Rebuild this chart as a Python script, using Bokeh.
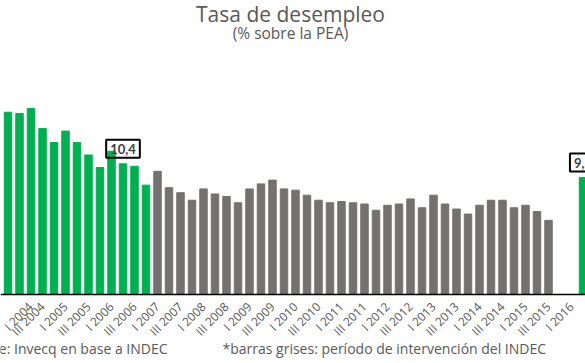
import math
from bokeh.plotting import figure
from bokeh.models import ColumnDataSource, Range1d, FixedTicker, Label
from bokeh.embed import file_html
from bokeh.resources import INLINE

# ---- data -------------------------------------------------------------
quarters = ["IV 2003"] + [f"{q} {y}" for y in range(2004, 2016) for q in ("I", "II", "III", "IV")] + ["I 2016", "II 2016"]
unemployment = [
    14.5,
    14.4, 14.8, 13.2, 12.1,
    13.0, 12.1, 11.1, 10.1,
    11.4, 10.4, 10.2, 8.7,
    9.8, 8.5, 8.1, 7.5,
    8.4, 8.0, 7.8, 7.3,
    8.4, 8.8, 9.1, 8.4,
    8.3, 7.9, 7.5, 7.3,
    7.4, 7.3, 7.2, 6.7,
    7.1, 7.2, 7.6, 6.9,
    7.9, 7.2, 6.8, 6.4,
    7.1, 7.5, 7.5, 6.9,
    7.1, 6.6, 5.9, None,
    None, 9.3,
]
intervention_start = "I 2007"
intervention_end = "IV 2015"
labelled_quarters = ["II 2006", "II 2016"]
tick_quarters = [q for q in quarters if q.split()[0] in ("I", "III")]

GREEN = "#00B050"
GRAY = "#767171"
TEXT = "#595959"

i0 = quarters.index(intervention_start)
i1 = quarters.index(intervention_end)
xs, tops, colors = [], [], []
for i, (q, v) in enumerate(zip(quarters, unemployment)):
    if v is None:
        continue
    xs.append(i)
    tops.append(v)
    colors.append(GRAY if i0 <= i <= i1 else GREEN)
src = ColumnDataSource(dict(x=xs, top=tops, color=colors))

# ---- figure -----------------------------------------------------------
W, H = 585, 363
p = figure(width=W, height=H, output_backend="svg", toolbar_location=None,
           x_range=Range1d(-0.652, 50.217), y_range=Range1d(-5.49, 23.39),
           min_border_left=0, min_border_right=0, min_border_top=0,
           min_border_bottom=0)
p.outline_line_color = None
p.xgrid.visible = False
p.ygrid.visible = False
p.yaxis.visible = False
p.background_fill_color = "white"
p.border_fill_color = "white"

p.vbar(x="x", top="top", width=0.65, color="color", source=src)

ax = p.xaxis[0]
ax.fixed_location = 0
ax.ticker = FixedTicker(ticks=[quarters.index(q) for q in tick_quarters])
ax.major_label_overrides = {quarters.index(q): q for q in tick_quarters}
ax.major_label_orientation = math.pi / 4
ax.major_tick_line_color = None
ax.minor_tick_line_color = None
ax.axis_line_color = "black"
ax.axis_line_width = 1.5
ax.major_label_text_font = "Open Sans"
ax.major_label_text_font_size = "12px"
ax.major_label_text_color = TEXT
ax.major_label_standoff = 4

# value call-outs
for q in labelled_quarters:
    i = quarters.index(q)
    v = unemployment[i]
    p.add_layout(Label(x=i, y=v, y_offset=15, text=f"{v:.1f}".replace(".", ","),
                       text_align="center", text_baseline="middle",
                       text_font="Lato", text_font_style="bold", text_font_size="13px",
                       text_color="#404040", border_line_color="black",
                       border_line_width=2, background_fill_color=None, padding=4))

# titles and notes (screen units measured from the bottom of the canvas)
p.add_layout(Label(x=290, y=350, x_units="screen", y_units="screen", text="Tasa de desempleo",
                   text_align="center", text_baseline="alphabetic", text_font="Open Sans",
                   text_font_size="21px", text_color=TEXT))
p.add_layout(Label(x=290, y=331, x_units="screen", y_units="screen", text="(% sobre la PEA)",
                   text_align="center", text_baseline="alphabetic", text_font="Open Sans",
                   text_font_size="15.5px", text_color=TEXT))
p.add_layout(Label(x=167, y=15, x_units="screen", y_units="screen", text="Fuente: Invecq en base a INDEC",
                   text_align="right", text_baseline="alphabetic", text_font="Open Sans",
                   text_font_size="14px", text_color=TEXT))
p.add_layout(Label(x=222, y=15, x_units="screen", y_units="screen",
                   text="*barras grises: período de intervención del INDEC",
                   text_align="left", text_baseline="alphabetic", text_font="Open Sans",
                   text_font_size="14px", text_color=TEXT))

open("out.html", "w").write(file_html(p, INLINE))
